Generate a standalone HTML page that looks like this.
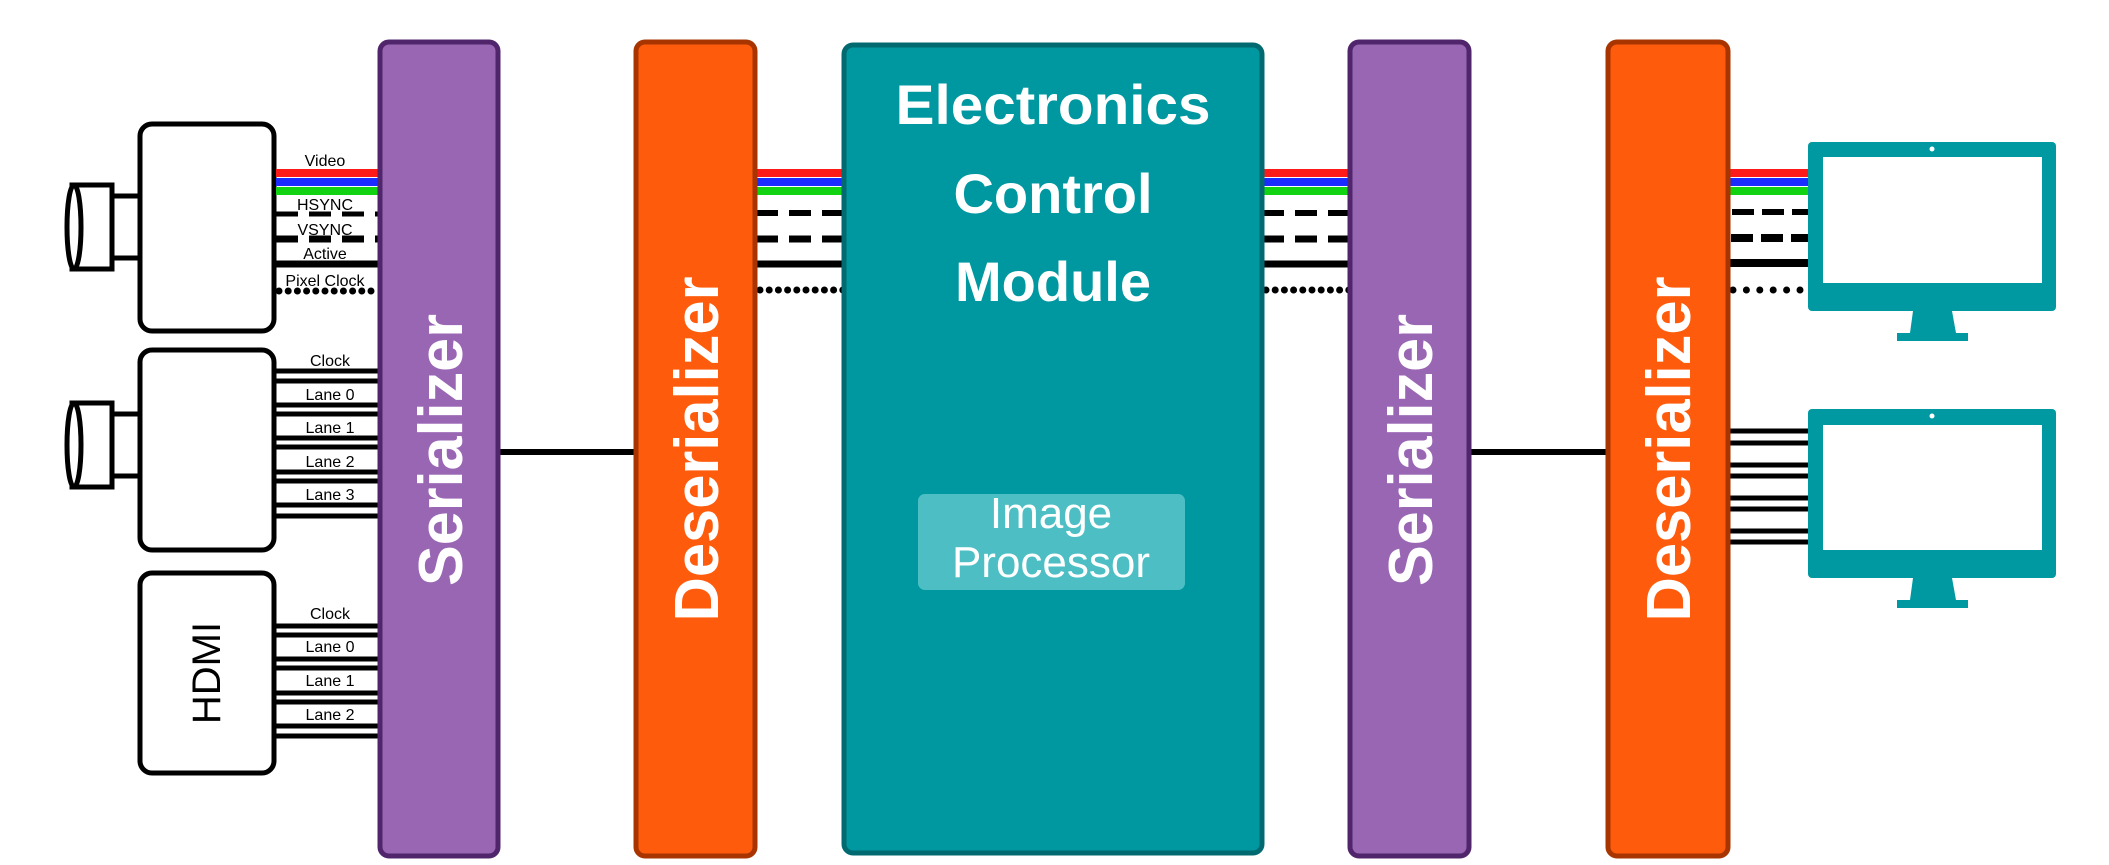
<!DOCTYPE html>
<html><head><meta charset="utf-8"><style>
html,body{margin:0;padding:0;background:#fff;}
svg{display:block;font-family:"Liberation Sans",sans-serif;}
</style></head><body>
<svg width="2109" height="865" viewBox="0 0 2109 865" xmlns="http://www.w3.org/2000/svg">

<!-- Camera 1 -->
<g>
  <rect x="140" y="124" width="134" height="207" rx="12" fill="#fff" stroke="#000" stroke-width="5"/>
  <rect x="110" y="196" width="30" height="62" fill="#fff" stroke="#000" stroke-width="5"/>
  <rect x="72" y="185" width="40" height="84" fill="#fff" stroke="#000" stroke-width="5"/>
  <ellipse cx="74" cy="227" rx="7" ry="42" fill="#fff" stroke="#000" stroke-width="5"/>
</g>
<!-- Camera 2 -->
<g>
  <rect x="140" y="350" width="134" height="200" rx="12" fill="#fff" stroke="#000" stroke-width="5"/>
  <rect x="110" y="414" width="30" height="62" fill="#fff" stroke="#000" stroke-width="5"/>
  <rect x="72" y="403" width="40" height="84" fill="#fff" stroke="#000" stroke-width="5"/>
  <ellipse cx="74" cy="445" rx="7" ry="42" fill="#fff" stroke="#000" stroke-width="5"/>
</g>
<!-- HDMI -->
<g>
  <rect x="140" y="573" width="134" height="200" rx="12" fill="#fff" stroke="#000" stroke-width="5"/>
  <text x="0" y="0" transform="translate(220,673) rotate(-90)" text-anchor="middle" font-size="40" fill="#000">HDMI</text>
</g>

<!-- Camera 1 parallel signals -->
<g font-size="16" text-anchor="middle" fill="#000">
  <rect x="276" y="169" width="104" height="8" fill="#ff1a1a"/>
  <rect x="276" y="178" width="104" height="8" fill="#1a2cff"/>
  <rect x="276" y="187" width="104" height="8" fill="#12d312"/>
  <line x1="276" y1="214" x2="380" y2="214" stroke="#000" stroke-width="5" stroke-dasharray="22 11"/>
  <line x1="276" y1="239" x2="380" y2="239" stroke="#000" stroke-width="7" stroke-dasharray="22 11"/>
  <line x1="276" y1="264" x2="380" y2="264" stroke="#000" stroke-width="7"/>
  <line x1="279" y1="291" x2="380" y2="291" stroke="#000" stroke-width="7" stroke-linecap="round" stroke-dasharray="0 9.2"/>
  <text x="325" y="166">Video</text>
  <text x="325" y="210">HSYNC</text>
  <text x="325" y="235">VSYNC</text>
  <text x="325" y="259">Active</text>
  <text x="325" y="286">Pixel Clock</text>
</g>

<!-- Camera 2 lanes -->
<g font-size="16" text-anchor="middle" fill="#000" stroke-width="5">
  <g stroke="#000">
    <line x1="276" y1="371" x2="380" y2="371"/><line x1="276" y1="381" x2="380" y2="381"/>
    <line x1="276" y1="405" x2="380" y2="405"/><line x1="276" y1="414" x2="380" y2="414"/>
    <line x1="276" y1="438" x2="380" y2="438"/><line x1="276" y1="447" x2="380" y2="447"/>
    <line x1="276" y1="472" x2="380" y2="472"/><line x1="276" y1="481" x2="380" y2="481"/>
    <line x1="276" y1="505" x2="380" y2="505"/><line x1="276" y1="516" x2="380" y2="516"/>
  </g>
  <text x="330" y="366" stroke="none">Clock</text>
  <text x="330" y="400" stroke="none">Lane 0</text>
  <text x="330" y="433" stroke="none">Lane 1</text>
  <text x="330" y="467" stroke="none">Lane 2</text>
  <text x="330" y="500" stroke="none">Lane 3</text>
</g>

<!-- HDMI lanes -->
<g font-size="16" text-anchor="middle" fill="#000" stroke-width="5">
  <g stroke="#000">
    <line x1="276" y1="626" x2="380" y2="626"/><line x1="276" y1="635" x2="380" y2="635"/>
    <line x1="276" y1="659" x2="380" y2="659"/><line x1="276" y1="668" x2="380" y2="668"/>
    <line x1="276" y1="693" x2="380" y2="693"/><line x1="276" y1="702" x2="380" y2="702"/>
    <line x1="276" y1="726" x2="380" y2="726"/><line x1="276" y1="736" x2="380" y2="736"/>
  </g>
  <text x="330" y="619" stroke="none">Clock</text>
  <text x="330" y="652" stroke="none">Lane 0</text>
  <text x="330" y="686" stroke="none">Lane 1</text>
  <text x="330" y="720" stroke="none">Lane 2</text>
</g>

<!-- Serial links -->
<line x1="498" y1="452" x2="636" y2="452" stroke="#000" stroke-width="6"/>
<line x1="1469" y1="452" x2="1607" y2="452" stroke="#000" stroke-width="6"/>

<!-- Parallel bundles between blocks -->
<g>
  <rect x="756" y="169" width="88" height="8" fill="#ff1a1a"/>
  <rect x="756" y="178" width="88" height="8" fill="#1a2cff"/>
  <rect x="756" y="187" width="88" height="8" fill="#12d312"/>
  <line x1="756" y1="213" x2="844" y2="213" stroke="#000" stroke-width="6" stroke-dasharray="22 11"/>
  <line x1="756" y1="239" x2="844" y2="239" stroke="#000" stroke-width="7" stroke-dasharray="22 11"/>
  <line x1="756" y1="264" x2="844" y2="264" stroke="#000" stroke-width="7"/>
  <line x1="760" y1="290" x2="844" y2="290" stroke="#000" stroke-width="7" stroke-linecap="round" stroke-dasharray="0 9.2"/>
</g>
<g>
  <rect x="1262" y="169" width="88" height="8" fill="#ff1a1a"/>
  <rect x="1262" y="178" width="88" height="8" fill="#1a2cff"/>
  <rect x="1262" y="187" width="88" height="8" fill="#12d312"/>
  <line x1="1262" y1="213" x2="1350" y2="213" stroke="#000" stroke-width="6" stroke-dasharray="22 11"/>
  <line x1="1262" y1="239" x2="1350" y2="239" stroke="#000" stroke-width="7" stroke-dasharray="22 11"/>
  <line x1="1262" y1="264" x2="1350" y2="264" stroke="#000" stroke-width="7"/>
  <line x1="1266" y1="290" x2="1350" y2="290" stroke="#000" stroke-width="7" stroke-linecap="round" stroke-dasharray="0 9.2"/>
</g>
<g>
  <rect x="1729" y="169" width="80" height="8" fill="#ff1a1a"/>
  <rect x="1729" y="178" width="80" height="8" fill="#1a2cff"/>
  <rect x="1729" y="187" width="80" height="8" fill="#12d312"/>
  <line x1="1732" y1="212" x2="1809" y2="212" stroke="#000" stroke-width="6" stroke-dasharray="22 8"/>
  <line x1="1731" y1="238" x2="1809" y2="238" stroke="#000" stroke-width="8" stroke-dasharray="22 8"/>
  <line x1="1729" y1="263" x2="1809" y2="263" stroke="#000" stroke-width="8"/>
  <line x1="1733" y1="290" x2="1801" y2="290" stroke="#000" stroke-width="7" stroke-linecap="round" stroke-dasharray="0 13.4"/>
</g>
<g stroke="#000" stroke-width="5">
  <line x1="1729" y1="431" x2="1809" y2="431"/><line x1="1729" y1="443" x2="1809" y2="443"/>
  <line x1="1729" y1="465" x2="1809" y2="465"/><line x1="1729" y1="476" x2="1809" y2="476"/>
  <line x1="1729" y1="498" x2="1809" y2="498"/><line x1="1729" y1="509" x2="1809" y2="509"/>
  <line x1="1729" y1="531" x2="1809" y2="531"/><line x1="1729" y1="542" x2="1809" y2="542"/>
</g>

<!-- Blocks -->
<g>
  <rect x="380" y="42" width="118" height="814" rx="9" fill="#9966b4" stroke="#50256b" stroke-width="5"/>
  <text transform="translate(462,450) rotate(-90)" text-anchor="middle" font-size="62" font-weight="bold" fill="#fff" textLength="272" lengthAdjust="spacingAndGlyphs">Serializer</text>
</g>
<g>
  <rect x="636" y="42" width="119" height="814" rx="9" fill="#fe5c0c" stroke="#a83500" stroke-width="5"/>
  <text transform="translate(718,449) rotate(-90)" text-anchor="middle" font-size="62" font-weight="bold" fill="#fff" textLength="345" lengthAdjust="spacingAndGlyphs">Deserializer</text>
</g>
<g>
  <rect x="844" y="45" width="418" height="808" rx="9" fill="#0098a0" stroke="#006a70" stroke-width="5"/>
  <g font-size="56" font-weight="bold" fill="#fff" text-anchor="middle">
    <text x="1053" y="124" textLength="315" lengthAdjust="spacingAndGlyphs">Electronics</text>
    <text x="1053" y="213">Control</text>
    <text x="1053" y="301">Module</text>
  </g>
  <g>
    <rect x="918" y="494" width="267" height="96" rx="7" fill="#4dbfc4"/>
    <text x="1051" y="528" text-anchor="middle" font-size="44" fill="#fff">Image</text>
    <text x="1051" y="577" text-anchor="middle" font-size="44" fill="#fff">Processor</text>
  </g>
</g>
<g>
  <rect x="1350" y="42" width="119" height="814" rx="9" fill="#9966b4" stroke="#50256b" stroke-width="5"/>
  <text transform="translate(1432,450) rotate(-90)" text-anchor="middle" font-size="62" font-weight="bold" fill="#fff" textLength="272" lengthAdjust="spacingAndGlyphs">Serializer</text>
</g>
<g>
  <rect x="1608" y="42" width="120" height="814" rx="9" fill="#fe5c0c" stroke="#a83500" stroke-width="5"/>
  <text transform="translate(1690,449) rotate(-90)" text-anchor="middle" font-size="62" font-weight="bold" fill="#fff" textLength="345" lengthAdjust="spacingAndGlyphs">Deserializer</text>
</g>

<!-- Monitors -->
<g>
  <rect x="1808" y="142" width="248" height="169" rx="4" fill="#0099a1"/>
  <rect x="1823" y="157" width="219" height="126" fill="#fff"/>
  <circle cx="1932" cy="149" r="2.5" fill="#fff"/>
  <polygon points="1913,311 1952,311 1956,333 1910,333" fill="#0099a1"/>
  <rect x="1897" y="333" width="71" height="8" fill="#0099a1"/>
</g>
<g>
  <rect x="1808" y="409" width="248" height="169" rx="4" fill="#0099a1"/>
  <rect x="1823" y="425" width="219" height="125" fill="#fff"/>
  <circle cx="1932" cy="416" r="2.5" fill="#fff"/>
  <polygon points="1913,578 1952,578 1956,600 1910,600" fill="#0099a1"/>
  <rect x="1897" y="600" width="71" height="8" fill="#0099a1"/>
</g>
</svg>
</body></html>
